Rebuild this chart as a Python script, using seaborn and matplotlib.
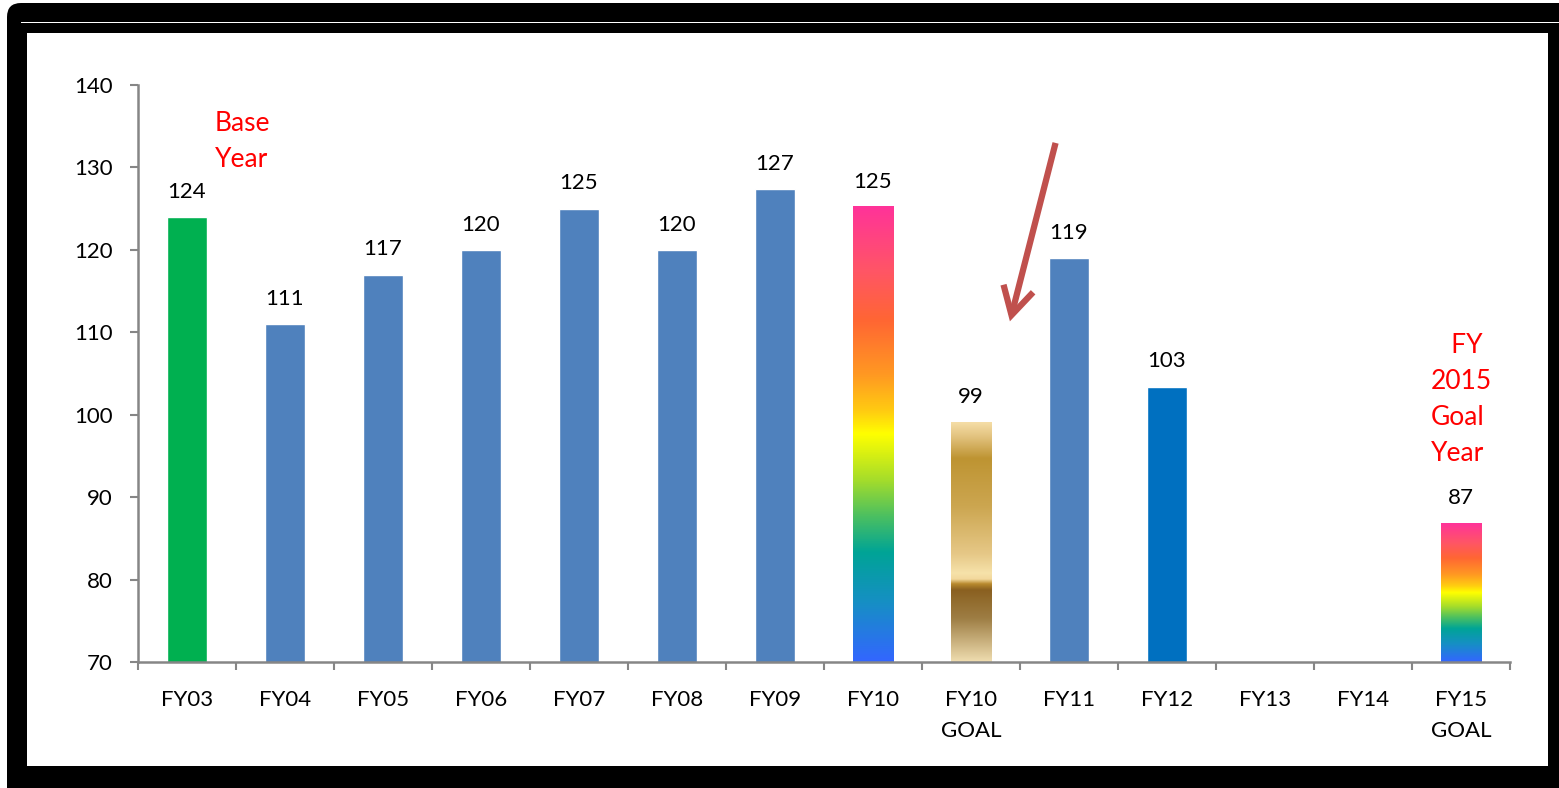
import numpy as np
import pandas as pd
import matplotlib
matplotlib.use("Agg")
import matplotlib.pyplot as plt
import seaborn as sns
from matplotlib.colors import LinearSegmentedColormap
from matplotlib.patches import FancyBboxPatch, Rectangle, FancyArrowPatch

# ---- data -------------------------------------------------------------
categories = ["FY03", "FY04", "FY05", "FY06", "FY07", "FY08", "FY09", "FY10",
              "FY10\nGOAL", "FY11", "FY12", "FY13", "FY14", "FY15\nGOAL"]
values = [124, 111, 117, 120, 125, 120, 127.4, 125.2, 99.1, 119, 103.4,
          np.nan, np.nan, 86.8]
y_ticks = [70, 80, 90, 100, 110, 120, 130, 140]

bar_colors = {c: "#4F81BD" for c in categories}
bar_colors["FY03"] = "#00B050"
bar_colors["FY12"] = "#0070C0"

# gradient fills (listed from the top of the bar downwards)
rainbow_stops = [(0.00, "#FF3399"), (0.14, "#FF5566"), (0.25, "#FF6633"),
                 (0.37, "#FF9922"), (0.45, "#FFCC11"), (0.50, "#FFFF00"),
                 (0.60, "#A6DD2A"), (0.68, "#4CC060"), (0.76, "#00A496"),
                 (0.87, "#168FC4"), (1.00, "#3366FF")]
gold_stops = [(0.00, "#F5DDA6"), (0.06, "#E2C27E"), (0.15, "#BE9432"),
              (0.35, "#CCA650"), (0.55, "#E6C887"), (0.63, "#F6E2AA"),
              (0.655, "#F2D89C"), (0.675, "#B98A2E"), (0.70, "#8A6020"),
              (0.82, "#9E7E44"), (1.00, "#EFDDB0")]
gradient_bars = {"FY10": rainbow_stops, "FY10\nGOAL": gold_stops,
                 "FY15\nGOAL": rainbow_stops}

df = pd.DataFrame({"year": categories, "value": values}).dropna()

# ---- style ------------------------------------------------------------
sns.set_theme(style="white")
plt.rcParams["font.family"] = ["Lato", "DejaVu Sans"]

W, H = 1559, 788
fig = plt.figure(figsize=(W / 100, H / 100), dpi=100)

# black slide frame behind the chart
bg = fig.add_axes([0, 0, 1, 1], zorder=0)
bg.set_xlim(0, W)
bg.set_ylim(H, 0)
bg.axis("off")
bg.add_patch(FancyBboxPatch((7, 3), W - 7 + 30, H - 3 + 30,
                            boxstyle="round,pad=0,rounding_size=14",
                            facecolor="black", edgecolor="none"))
bg.add_patch(Rectangle((21, 21.5), W, 1.3, facecolor="white", edgecolor="none"))
bg.add_patch(Rectangle((27, 33), 1548 - 27, 766 - 33,
                       facecolor="white", edgecolor="none"))

ax = fig.add_axes([138 / W, (H - 662) / H, (1510 - 138) / W, (662 - 85) / H],
                  zorder=1)
ax.patch.set_alpha(0)

sns.barplot(data=df, x="year", y="value", order=categories, hue="year",
            palette=bar_colors, legend=False, width=0.41, saturation=1,
            ax=ax)

ymin, ymax = y_ticks[0], y_ticks[-1]

# replace flat fills with vertical gradients for the highlighted bars
for p in ax.patches:
    h = p.get_height()
    if not np.isfinite(h):
        continue
    idx = int(round(p.get_x() + p.get_width() / 2))
    cat = categories[idx]
    if cat in gradient_bars:
        cmap = LinearSegmentedColormap.from_list(cat, gradient_bars[cat])
        grad = np.linspace(0, 1, 512)[:, None]
        p.set_facecolor("none")
        ax.imshow(grad, cmap=cmap, aspect="auto", origin="upper",
                  extent=[p.get_x(), p.get_x() + p.get_width(), ymin, h],
                  zorder=2, interpolation="bilinear")

for cont in ax.containers:
    ax.bar_label(cont, fmt="{:.0f}", padding=11, fontsize=16, color="black")

ax.set_xlim(-0.5, len(categories) - 0.5)
ax.set_ylim(ymin, ymax)
ax.set_xlabel("")
ax.set_ylabel("")

# y axis
ax.set_yticks(y_ticks)
ax.set_yticklabels([str(t) for t in y_ticks], fontsize=16, color="black")
# x axis: tick marks on category boundaries, labels at the centres
ax.set_xticks(np.arange(-0.5, len(categories)), labels=[""] * (len(categories) + 1))
ax.set_xticks(np.arange(len(categories)), labels=categories, minor=True,
              fontsize=16, color="black", linespacing=1.68, va="top")
ax.tick_params(axis="x", which="minor", length=0, pad=20)
ax.tick_params(axis="x", which="major", length=6, width=1.5, color="#868686",
               direction="out", bottom=True)
ax.tick_params(axis="y", length=6, width=1.5, color="#868686",
               direction="out", left=True, pad=12)

for side in ("top", "right"):
    ax.spines[side].set_visible(False)
for side in ("left", "bottom"):
    ax.spines[side].set_color("#868686")
    ax.spines[side].set_linewidth(1.8)

# notes
ax.text(0.28, 133.1, "Base\nYear", color="#FF0000", fontsize=19,
        ha="left", va="center", linespacing=1.55)
ax.text(12.69, 101.8, "   FY\n2015\nGoal\nYear", color="#FF0000", fontsize=19,
        ha="left", va="center", multialignment="left", linespacing=1.55)

arrow = FancyArrowPatch((8.87, 133.3), (8.39, 111.0),
                        arrowstyle="->,head_length=0.9,head_width=0.5",
                        mutation_scale=22, lw=4.5, color="#C0504D",
                        capstyle="butt", joinstyle="miter", zorder=3)
ax.add_patch(arrow)

fig.savefig("out.png", dpi=100)
